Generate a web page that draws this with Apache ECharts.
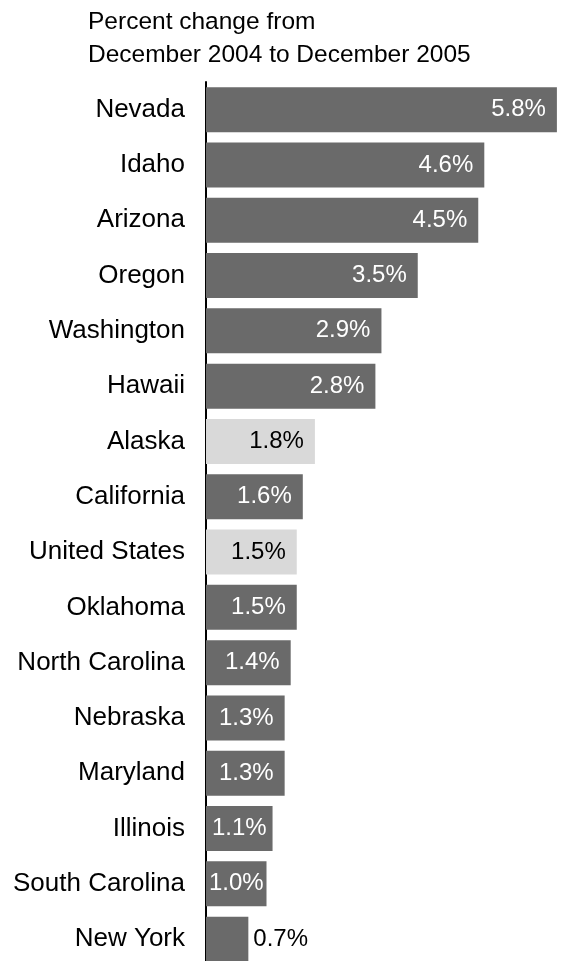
<!DOCTYPE html>
<html>
<head>
<meta charset="utf-8">
<script src="https://cdn.jsdelivr.net/npm/echarts@6/dist/echarts.min.js"></script>
<style>
  html, body { margin: 0; padding: 0; background: #fff; }
  #chart { width: 561px; height: 961px; }
</style>
</head>
<body>
<div id="chart"></div>
<script>
// Job growth by state, percent change Dec 2004 -> Dec 2005
const states = ['Nevada', 'Idaho', 'Arizona', 'Oregon', 'Washington', 'Hawaii', 'Alaska',
  'California', 'United States', 'Oklahoma', 'North Carolina', 'Nebraska', 'Maryland',
  'Illinois', 'South Carolina', 'New York'];
const pctChange = [5.8, 4.6, 4.5, 3.5, 2.9, 2.8, 1.8, 1.6, 1.5, 1.5, 1.4, 1.3, 1.3, 1.1, 1.0, 0.7];
// rows drawn in the lighter shade
const shadedRows = ['Alaska', 'United States'];
const titleLines = ['Percent change from', 'December 2004 to December 2005'];

const FONT = "'Liberation Sans', Arial, sans-serif";
const DARK = '#6a6a6a';
const LIGHT = '#d9d9d9';

// label placement: right-aligned inside long bars, centred in short ones,
// and outside the bar when it is too short to hold the text
function labelFor(v, shaded) {
  if (v < 0.9) return { position: 'right', distance: 5, color: '#000' };
  const color = shaded ? '#000' : '#fff';
  if (v < 1.2) return { position: 'inside', color };
  return { position: 'insideRight', distance: 11, color };
}

const barData = states.map((name, i) => {
  const v = pctChange[i];
  const shaded = shadedRows.includes(name);
  return {
    value: v,
    itemStyle: { color: shaded ? LIGHT : DARK },
    label: labelFor(v, shaded)
  };
});

const chart = echarts.init(document.getElementById('chart'), null, { renderer: 'canvas' });
chart.setOption({
  animation: false,
  backgroundColor: '#fff',
  title: {
    text: titleLines.join('\n'),
    left: 83,
    top: 1,
    textStyle: { fontFamily: FONT, fontSize: 24.5, fontWeight: 'normal', color: '#000', lineHeight: 33 }
  },
  grid: {
    left: 206, top: 82, width: 363, height: 884.8,
    containLabel: false, outerBoundsMode: 'none'
  },
  xAxis: { type: 'value', min: 0, max: 6, show: false },
  yAxis: {
    type: 'category',
    data: states,
    inverse: true,
    axisLine: { show: true, lineStyle: { color: '#000', width: 2 } },
    axisTick: { show: false },
    axisLabel: { fontFamily: FONT, fontSize: 26, color: '#000', margin: 21 }
  },
  series: [{
    type: 'bar',
    data: barData,
    barWidth: 45,
    label: {
      show: true,
      fontFamily: FONT,
      fontSize: 24,
      formatter: p => p.value.toFixed(1) + '%'
    }
  }]
});
</script>
</body>
</html>
